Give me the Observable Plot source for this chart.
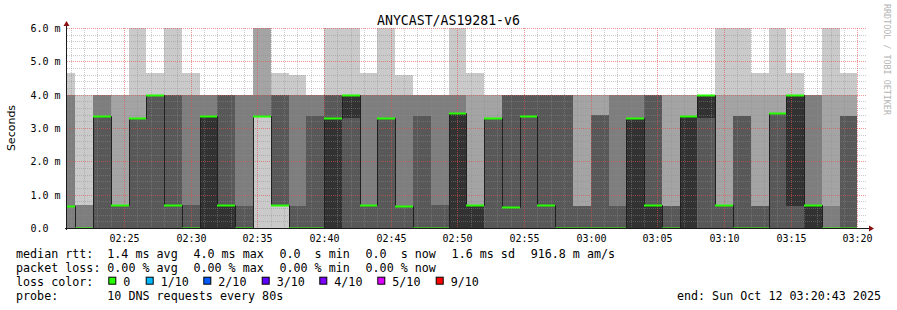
<!DOCTYPE html>
<html><head><meta charset="utf-8">
<script src="https://cdn.jsdelivr.net/npm/d3@7"></script>
<script src="https://cdn.jsdelivr.net/npm/@observablehq/plot@0.6"></script>
<style>
html,body{margin:0;padding:0;background:#fff;}
#chart{width:897px;height:310px;}
#chart svg text{white-space:pre;}
</style></head><body><div id="chart"></div>
<script>
// ---- data ----
const day = "2025-10-12";
const title = "ANYCAST/AS19281-v6";
const yLabel = "Seconds";
const watermark = "RRDTOOL / TOBI OETIKER";
const viewStart = "02:20:43";
const viewEnd = "03:20:43";
// start time of each 80 s sample
const slotStart = ["02:20:00","02:21:20","02:22:40","02:24:00","02:25:20","02:26:40","02:28:00","02:29:20","02:30:40","02:32:00",
  "02:33:20","02:34:40","02:36:00","02:37:20","02:38:40","02:40:00","02:41:20","02:42:40","02:44:00","02:45:20",
  "02:46:40","02:48:00","02:49:20","02:50:40","02:52:00","02:53:20","02:54:40","02:56:00","02:57:20","02:58:40",
  "03:00:00","03:01:20","03:02:40","03:04:00","03:05:20","03:06:40","03:08:00","03:09:20","03:10:40","03:12:00",
  "03:13:20","03:14:40","03:16:00","03:17:20","03:18:40"];
const slotEnd = "03:20:00";
// sorted ping times (ms) of the 10 probes in each sample
const pings = [
  [0,0,0,0.65,0.65,0.65,0.65,4,4,4.65],
  [0,0,0,0,0,0,0,0.7,0.7,4],
  [0,0,0,0,3.35,3.35,3.35,4,4,4],
  [0,0,0,0,0.7,0.7,0.7,0.7,4,4],
  [0,0,0,0,3.3,3.3,3.3,3.3,4,6],
  [0,0,0,0,4,4,4,4,4,4.65],
  [0,0,0,0,0.7,0.7,4,4,4,6],
  [0,0,0,0,0,0,0.7,4,4,4.65],
  [0,0,0,0,0,3.35,3.35,4,4,4],
  [0,0,0,0,0,0.7,4,4,4,4],
  [0,0,0,0,0,0,0.65,4,4,4],
  [0,3.35,3.35,3.35,3.35,3.35,3.35,4,6,6],
  [0,0.7,0.7,0.7,0.7,0.7,4,4,4,4.65],
  [0,0,0,0,0,0,0.65,4,4,4.6],
  [0,0,0,0,0,0,3.35,4,4,4],
  [0,0,0,0,0,3.3,4,4,4,6],
  [0,0,0,0,3.3,4,4,4,4,6],
  [0,0,0,0,0.68,0.68,0.68,4,4,4.65],
  [0,0,0,0,3.3,3.3,3.3,4,4,6],
  [0,0,0,0,0.65,0.65,0.65,4,4,4.6],
  [0,0,0,0,0,0,3.35,4,4,4],
  [0,0,0,0,0,0,0.7,4,4,4],
  [0,0,0,0,0,3.45,3.45,4,4,6],
  [0,0,0,0,0,0.68,0.68,0.68,4,4.65],
  [0,0,0,0,3.3,3.3,3.3,3.3,4,4],
  [0,0,0,0,0.62,0.62,4,4,4,4],
  [0,0,0,0,3.35,3.35,4,4,4,4],
  [0,0,0,0,0.68,0.68,4,4,4,4],
  [0,0,0,0,0,0,4,4,4,4],
  [0,0,0,0,0,0,0.65,0.65,4,4],
  [0,0,0,0,0,0,3.4,3.4,4,4],
  [0,0,0,0,0,0,0.65,4,4,4],
  [0,0,0,0,0,3.3,3.3,4,4,4],
  [0,0,0,0,0,0.68,4,4,4,4],
  [0,0,0,0,0,0,0.65,0.65,4,4],
  [0,0,0,0,0,3.35,3.35,3.35,4,4],
  [0,0,0,0,3.3,4,4,4,4,4],
  [0,0,0,0,0.68,0.68,0.68,0.68,4,6],
  [0,0,0,0,0,0,3.35,3.35,4,6],
  [0,0,0,0,0,0,0.65,0.65,4,4.65],
  [0,0,0,0,3.45,3.45,3.45,3.45,4,6],
  [0,0,0,0,0.65,4,4,4,4,4.65],
  [0,0,0,0,0,0.7,0.7,4,4,4],
  [0,0,0,0,0,0,0,0.65,4,6],
  [0,0,0,0,0,0,3.35,3.35,4,4.65]
];
// median rtt (ms) per sample
const median = [0.65,0,3.35,0.7,3.3,4,0.7,0,3.35,0.7,0,3.35,0.7,0,0,3.3,4,0.68,3.3,0.65,
  0,0,3.45,0.68,3.3,0.62,3.35,0.68,0,0,0,0,3.3,0.68,0,3.35,4,0.68,0,0,3.45,4,0.7,0,0];
const yTicks = [0,1,2,3,4,5,6];
const yTickLabels = ["0.0  ","1.0 m","2.0 m","3.0 m","4.0 m","5.0 m","6.0 m"];
const xTickLabels = ["02:25","02:30","02:35","02:40","02:45","02:50","02:55","03:00","03:05","03:10","03:15","03:20"];
const smokeColors = ["#cacaca","#a4a4a4","#7e7e7e","#585858","#323232"];
const lossLabels = ["0","1/10","2/10","3/10","4/10","5/10","9/10"];
const lossColors = ["#26ff00","#00b8ff","#0059ff","#5e00ff","#7e00ff","#dd00ff","#ff0000"];
const rttStats = ["1.4 ms avg","4.0 ms max","0.0  s min","0.0  s now","1.6 ms sd","916.8 m am/s"];
const lossStats = ["0.00 % avg","0.00 % max","0.00 % min","0.00 % now"];
const probeText = "10 DNS requests every 80s";
const endText = "end: Sun Oct 12 03:20:43 2025";

// ---- build ----
const T = s => new Date(`${day}T${s.length === 5 ? s + ":00" : s}Z`);
const domain = [T(viewStart), T(viewEnd)];
const cols = slotStart.map((s, i) => ({
  t0: T(s), t1: T(i < slotStart.length - 1 ? slotStart[i + 1] : slotEnd), p: pings[i], m: median[i]
}));
const bands = [];
cols.forEach(c => {
  for (let k = 0; k < 5; k++) {
    const lo = c.p[k], hi = c.p[9 - k];
    if (hi > lo) bands.push({t0: c.t0, t1: c.t1, lo, hi, color: smokeColors[k]});
  }
});
const medPts = cols.map(c => ({t: c.t0, m: c.m}));
medPts.push({t: T(slotEnd), m: cols[cols.length - 1].m});

const allMin = d3.utcMinute.range(domain[0], domain[1]);
const minorX = allMin.filter(d => d.getUTCMinutes() % 5 !== 0);
const majorX = xTickLabels.map(T);
const minorY = d3.range(1, 31).map(i => i / 5).filter(v => Math.abs(v - Math.round(v)) > 1e-6);
const majorY = yTicks.filter(v => v > 0);

const chart = Plot.plot({
  width: 897, height: 310,
  marginLeft: 67, marginRight: 30, marginTop: 28, marginBottom: 82,
  style: {background: "#fff", fontFamily: "DejaVu Sans Mono", fontSize: "10px", color: "#000"},
  x: {type: "utc", domain, round: true},
  y: {domain: [0, 6], round: true},
  color: {type: "identity"},
  marks: [
    Plot.rect(bands, {x1: "t0", x2: "t1", y1: "lo", y2: "hi", fill: "color", clip: true, shapeRendering: "crispEdges"}),
    Plot.ruleX(minorX, {stroke: "#8f8f8f", strokeOpacity: 0.45, strokeDasharray: "1,1"}),
    Plot.ruleY(minorY, {stroke: "#8f8f8f", strokeOpacity: 0.45, strokeDasharray: "1,1"}),
    Plot.ruleX(majorX, {stroke: "#de5048", strokeOpacity: 0.6, strokeDasharray: "1,1"}),
    Plot.ruleY(majorY, {stroke: "#de5048", strokeOpacity: 0.6, strokeDasharray: "1,1"}),
    Plot.line(medPts, {x: "t", y: "m", curve: "step-after", stroke: "#202020", strokeWidth: 1, clip: true}),
    Plot.ruleY(cols, {y: "m", x1: "t0", x2: "t1", stroke: lossColors[0], strokeWidth: 2, clip: true}),
    Plot.axisX(majorX, {tickSize: 0, tickPadding: 6, tickFormat: d3.utcFormat("%H:%M"), label: null}),
    Plot.axisY(yTicks, {tickSize: 0, tickPadding: 7, tickFormat: d => yTickLabels[yTicks.indexOf(d)], label: null})
  ]
});
document.getElementById("chart").appendChild(chart);

const svg = d3.select(chart);
const xs = chart.scale("x"), ys = chart.scale("y");
const X0 = xs.apply(domain[0]), X1 = xs.apply(domain[1]);
const Y0 = ys.apply(0), Y1 = ys.apply(6);
const deco = svg.append("g");
deco.append("line").attr("x1", X0 - 2).attr("x2", X1 + 3).attr("y1", Y0 + 0.5).attr("y2", Y0 + 0.5).attr("stroke", "#1a1a1a");
deco.append("line").attr("x1", X0 - 0.5).attr("x2", X0 - 0.5).attr("y1", Y0 + 2).attr("y2", Y1 - 3).attr("stroke", "#1a1a1a");
deco.append("path").attr("d", `M${X1 + 2},${Y0 - 2.5}L${X1 + 7},${Y0 + 0.5}L${X1 + 2},${Y0 + 3.5}Z`).attr("fill", "#8b1010");
deco.append("path").attr("d", `M${X0 - 3.5},${Y1 - 2}L${X0 - 0.5},${Y1 - 7}L${X0 + 2.5},${Y1 - 2}Z`).attr("fill", "#8b1010");

const mono = "DejaVu Sans Mono";
svg.append("text").attr("x", 448.5).attr("y", 24.5).attr("text-anchor", "middle")
  .attr("font-family", mono).attr("font-size", 13.2).attr("fill", "#000").text(title);
svg.append("text").attr("transform", `translate(15,${(Y0 + Y1) / 2}) rotate(-90)`).attr("text-anchor", "middle")
  .attr("font-family", "DejaVu Sans").attr("font-size", 11).attr("fill", "#000").text(yLabel);
svg.append("text").attr("transform", "translate(884,4) rotate(90)").attr("text-anchor", "start")
  .attr("font-family", mono).attr("font-size", 8.4).attr("fill", "#b4b4b4").text(watermark);

const FS = 11.7, gap = 15.7, colX = 107.3, leftX = 16;
const lines = [257.7, 271.7, 285.7, 299.6];
function txt(x, y, s) {
  return svg.append("text").attr("x", x).attr("y", y).attr("text-anchor", "start")
    .attr("font-family", mono).attr("font-size", FS).attr("fill", "#000").text(s);
}
function chunks(y, arr) {
  let x = colX;
  arr.forEach(s => { const t = txt(x, y, s); x += t.node().getComputedTextLength() + gap; });
}
txt(leftX, lines[0], "median rtt:");
chunks(lines[0], rttStats);
txt(leftX, lines[1], "packet loss:");
chunks(lines[1], lossStats);
txt(leftX, lines[2], "loss color:");
const boxX = [108.3, 145.7, 203.3, 261.7, 319.3, 377.3, 435.7];
lossLabels.forEach((lab, i) => {
  svg.append("rect").attr("x", boxX[i] + 0.5).attr("y", lines[2] - 8.5).attr("width", 7).attr("height", 7)
    .attr("fill", lossColors[i]).attr("stroke", "#000").attr("stroke-width", 1);
  txt(boxX[i] + 15, lines[2], lab);
});
txt(leftX, lines[3], "probe:");
txt(colX, lines[3], probeText);
txt(881, lines[3], endText).attr("text-anchor", "end");
</script></body></html>
